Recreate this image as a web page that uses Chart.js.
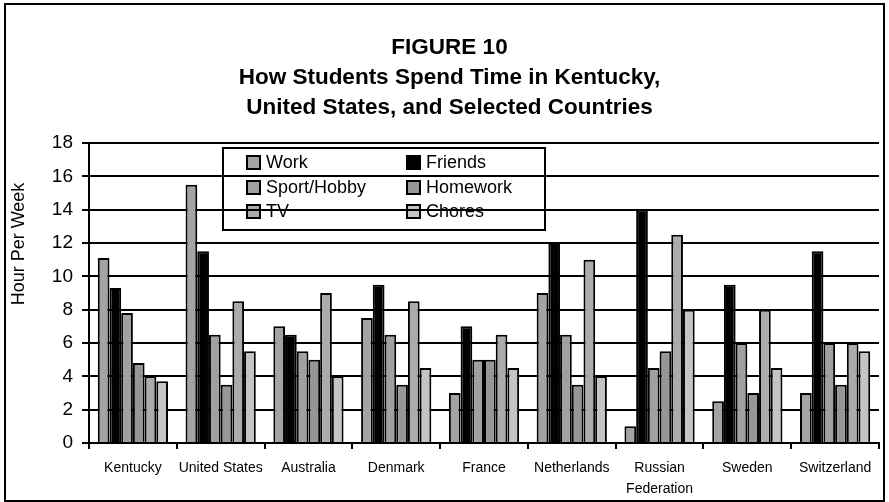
<!DOCTYPE html>
<html>
<head>
<meta charset="utf-8">
<script src="https://cdn.jsdelivr.net/npm/chart.js@4"></script>
<style>
  html, body { margin: 0; padding: 0; background: #fff; }
  #wrap { width: 889px; height: 502px; position: relative; }
</style>
</head>
<body>
<div id="wrap"><canvas id="chart" width="889" height="502"></canvas></div>
<script>
const categories = ['Kentucky', 'United States', 'Australia', 'Denmark', 'France', 'Netherlands', ['Russian', 'Federation'], 'Sweden', 'Switzerland'];
const work       = [11.1, 15.5, 7.0, 7.5, 3.0, 9.0, 1.0, 2.5, 3.0];
const friends    = [9.3, 11.5, 6.5, 9.5, 7.0, 12.0, 14.0, 9.5, 11.5];
const sportHobby = [7.8, 6.5, 5.5, 6.5, 5.0, 6.5, 4.5, 6.0, 6.0];
const homework   = [4.8, 3.5, 5.0, 3.5, 5.0, 3.5, 5.5, 3.0, 3.5];
const tv         = [4.0, 8.5, 9.0, 8.5, 6.5, 11.0, 12.5, 8.0, 6.0];
const chores     = [3.7, 5.5, 4.0, 4.5, 4.5, 4.0, 8.0, 4.5, 5.5];

// no Arial Narrow here, so plain Liberation Sans at sizes that keep the widths
const FONT = "'Liberation Sans', Arial, sans-serif";

// legend box sits behind the gridlines, so draw it before the scales
const boxLegend = {
    id: 'boxLegend',
    beforeDraw(chart) {
        const ctx = chart.ctx;
        ctx.save();
        ctx.lineWidth = 2;
        ctx.strokeStyle = '#000';
        ctx.strokeRect(223, 148, 322, 82);
        ctx.font = '18px ' + FONT;
        ctx.textBaseline = 'middle';
        ctx.fillStyle = '#000';
        const cols = [247, 407];
        const rows = [162, 187, 211];
        chart.data.datasets.forEach((ds, i) => {
            const x = cols[i % 2], y = rows[Math.floor(i / 2)];
            ctx.fillStyle = ds.backgroundColor;
            ctx.fillRect(x, y - 6, 13, 13);
            ctx.strokeRect(x, y - 6, 13, 13);
            ctx.fillStyle = '#000';
            ctx.fillText(ds.label, x + 19, y + 1);
        });
        ctx.restore();
    },
    afterDraw(chart) {
        const ctx = chart.ctx;
        ctx.save();
        // outer frame
        ctx.lineWidth = 2;
        ctx.strokeStyle = '#000';
        ctx.strokeRect(5, 4, 879, 497);
        // y axis title
        ctx.translate(19, 244);
        ctx.rotate(-Math.PI / 2);
        ctx.font = '18px ' + FONT;
        ctx.textAlign = 'center';
        ctx.textBaseline = 'middle';
        ctx.fillStyle = '#000';
        ctx.fillText('Hour Per Week', 0, 0);
        ctx.restore();
    }
};

const mk = (label, data, color) => ({
    label: label,
    data: data,
    backgroundColor: color,
    borderColor: '#000',
    borderWidth: 2,
    borderSkipped: 'start'
});

new Chart(document.getElementById('chart'), {
    type: 'bar',
    data: {
        labels: categories,
        datasets: [
            mk('Work', work, '#a3a3a3'),
            mk('Friends', friends, '#000000'),
            mk('Sport/Hobby', sportHobby, '#a0a0a0'),
            mk('Homework', homework, '#969696'),
            mk('TV', tv, '#ababab'),
            mk('Chores', chores, '#c4c4c4')
        ]
    },
    options: {
        responsive: false,
        animation: false,
        devicePixelRatio: 1,
        layout: { padding: { top: 0, left: 20, right: 10, bottom: 0 } },
        datasets: { bar: { categoryPercentage: 0.8, barPercentage: 1 } },
        plugins: {
            legend: { display: false },
            tooltip: { enabled: false },
            title: {
                display: true,
                text: ['FIGURE 10', 'How Students Spend Time in Kentucky,', 'United States, and Selected Countries'],
                color: '#000',
                font: { family: FONT, size: 22.5, weight: 'bold', lineHeight: 30 / 22.5 },
                padding: { top: 33, bottom: 20 }
            }
        },
        scales: {
            x: {
                grid: { display: true, drawOnChartArea: false, drawTicks: true, tickLength: 6, color: '#000', lineWidth: 2 },
                border: { display: true, color: '#000', width: 2 },
                ticks: { color: '#000', font: { family: FONT, size: 14, lineHeight: 1.5 }, padding: 9, maxRotation: 0, autoSkip: false },
                afterFit(scale) { scale.height = 59; }
            },
            y: {
                min: 0,
                max: 18,
                ticks: { stepSize: 2, color: '#000', font: { family: FONT, size: 19 }, padding: 9 },
                grid: { color: '#000', lineWidth: 2, tickLength: 7 },
                border: { display: true, color: '#000', width: 2 },
                afterFit(scale) { scale.width = 69; }
            }
        }
    },
    plugins: [boxLegend]
});
</script>
</body>
</html>
